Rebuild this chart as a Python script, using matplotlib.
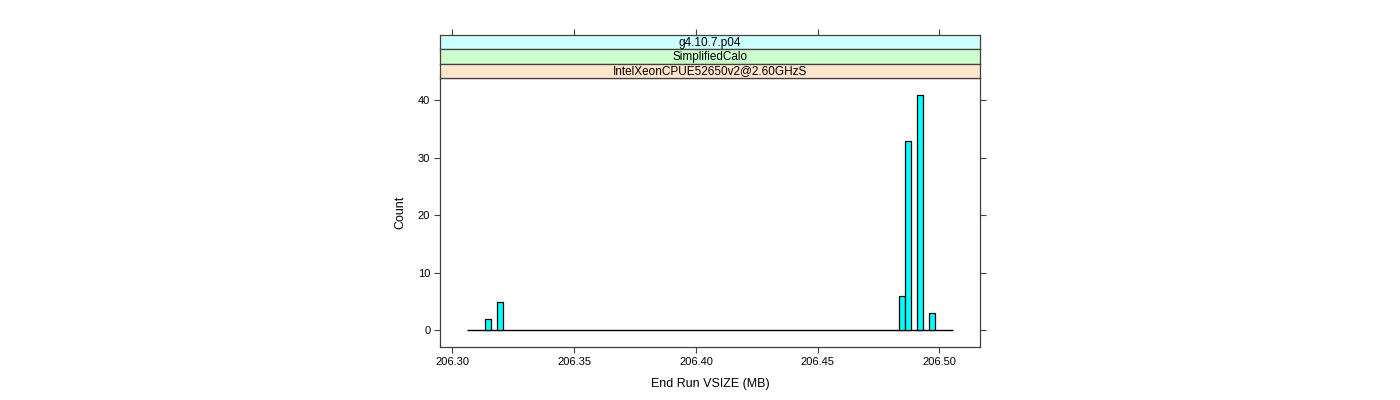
import matplotlib.pyplot as plt
import numpy as np

# histogram bins (lattice-style, zero bins still drawn as baseline)
bin_start = 206.3061
bin_width = 0.002464
n_bins = 81
bin_index = [3, 5, 72, 73, 75, 77]
counts = [2, 5, 6, 33, 41, 3]

strip_labels = ['g4.10.7.p04', 'SimplifiedCalo', 'IntelXeonCPUE52650v2@2.60GHzS']
strip_colors = ['#ccffff', '#ccffcc', '#ffe5cc']

x_ticks = [206.30, 206.35, 206.40, 206.45, 206.50]
y_ticks = [0, 10, 20, 30, 40]

AXCOL = '#404040'


def style_frame(ax):
    for s in ax.spines.values():
        s.set_color(AXCOL)
        s.set_linewidth(0.9)


def main():
    plt.rcParams['font.family'] = ['Liberation Sans', 'DejaVu Sans']
    fig = plt.figure(figsize=(14, 4), dpi=100)

    W, H = 1400.0, 400.0
    left, right = 440, 980
    top, bottom = 78, 347
    strip_top = 35

    ax = fig.add_axes([left / W, (H - bottom) / H, (right - left) / W, (bottom - top) / H])

    lefts = [bin_start + i * bin_width for i in bin_index]
    ax.hlines(0, bin_start, bin_start + n_bins * bin_width, color='black', linewidth=1.0, zorder=2)
    ax.bar(lefts, counts, width=bin_width, align='edge', color='#00ffff',
           edgecolor='black', linewidth=0.9, zorder=3)

    xlim = (206.30 - (452.4 - left) / 2435.0, 206.30 + (right - 452.4) / 2435.0)
    ymax = max(counts)
    ax.set_xlim(*xlim)
    ax.set_ylim(-0.07 * ymax, 1.07 * ymax)
    ax.set_xticks(x_ticks)
    ax.set_xticklabels([f'{t:.2f}' for t in x_ticks])
    ax.set_yticks(y_ticks)
    ax.tick_params(axis='both', direction='out', length=4, width=0.8, color=AXCOL,
                   labelsize=8, pad=3)
    ax.tick_params(axis='y', right=True)
    ax.set_xlabel('End Run VSIZE (MB)', fontsize=9, labelpad=8)
    ax.set_ylabel('Count', fontsize=9, labelpad=8)
    style_frame(ax)

    # strips, bottom one closest to the panel
    strip_h = (top - strip_top) / 3.0
    for k, (lab, col) in enumerate(zip(strip_labels, strip_colors)):
        y0 = strip_top + k * strip_h
        sax = fig.add_axes([left / W, (H - y0 - strip_h) / H, (right - left) / W, strip_h / H])
        sax.set_facecolor(col)
        sax.set_xlim(*xlim)
        sax.set_ylim(0, 1)
        sax.text(0.5, 0.45, lab, transform=sax.transAxes, ha='center', va='center', fontsize=8.5)
        sax.set_yticks([])
        if k == 0:
            sax.set_xticks(x_ticks)
            sax.tick_params(axis='x', bottom=False, top=True, labelbottom=False,
                            direction='out', length=4, width=0.8, color=AXCOL)
        else:
            sax.set_xticks([])
        style_frame(sax)

    fig.savefig('out.png', dpi=100)


if __name__ == "__main__":
    main()
